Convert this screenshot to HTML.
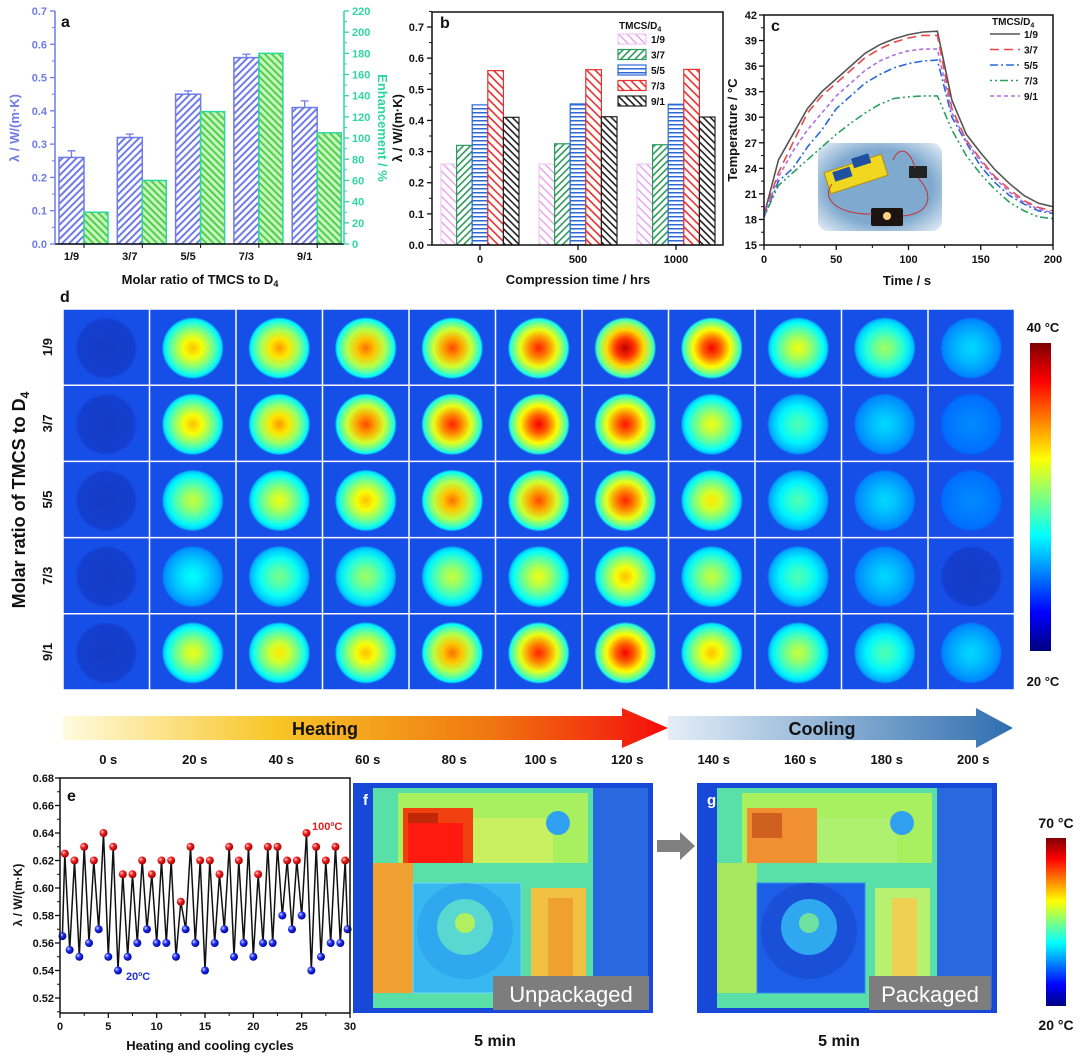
<!DOCTYPE html>
<html><head><meta charset="utf-8"><style>
html,body{margin:0;padding:0;background:#fff;}
svg{display:block;font-family:"Liberation Sans",Arial,sans-serif;font-weight:bold;}
</style></head><body>
<svg id="s" width="1080" height="1060" viewBox="0 0 1080 1060" xmlns="http://www.w3.org/2000/svg">
<defs>
<pattern id="pBlue" width="5" height="5" patternUnits="userSpaceOnUse" patternTransform="rotate(-45)"><rect width="5" height="5" fill="#fff"/><rect width="5" height="2" fill="#6f7be6"/></pattern>
<pattern id="pGreen" width="5" height="5" patternUnits="userSpaceOnUse" patternTransform="rotate(45)"><rect width="5" height="5" fill="#c8f5c0"/><rect width="5" height="2" fill="#4fd046"/></pattern>
<pattern id="pPink" width="6" height="6" patternUnits="userSpaceOnUse" patternTransform="rotate(45)"><rect width="6" height="6" fill="#fff"/><rect width="6" height="1.5" fill="#e6a8ef"/></pattern>
<pattern id="pG2" width="5" height="5" patternUnits="userSpaceOnUse" patternTransform="rotate(-45)"><rect width="5" height="5" fill="#fff"/><rect width="5" height="1.6" fill="#2c9a5a"/></pattern>
<pattern id="pB2" width="4" height="4" patternUnits="userSpaceOnUse"><rect width="4" height="4" fill="#fff"/><rect width="4" height="1.5" fill="#2c68d8"/></pattern>
<pattern id="pR2" width="6" height="6" patternUnits="userSpaceOnUse" patternTransform="rotate(45)"><rect width="6" height="6" fill="#fff"/><rect width="6" height="1.6" fill="#e83030"/></pattern>
<pattern id="pK2" width="5" height="5" patternUnits="userSpaceOnUse" patternTransform="rotate(45)"><rect width="5" height="5" fill="#fff"/><rect width="5" height="1.6" fill="#222"/></pattern>
<linearGradient id="gHeat" x1="0" x2="1"><stop offset="0" stop-color="#fffbe0"/><stop offset="0.35" stop-color="#f8c628"/><stop offset="0.7" stop-color="#f07810"/><stop offset="1" stop-color="#f40c0c"/></linearGradient>
<linearGradient id="gCool" x1="0" x2="1"><stop offset="0" stop-color="#e4eef8"/><stop offset="1" stop-color="#2e6eae"/></linearGradient>
<linearGradient id="gJet" x1="0" x2="0" y1="1" y2="0"><stop offset="0" stop-color="#00007f"/><stop offset="0.125" stop-color="#0000ff"/><stop offset="0.375" stop-color="#00ffff"/><stop offset="0.625" stop-color="#ffff00"/><stop offset="0.875" stop-color="#ff0000"/><stop offset="1" stop-color="#7f0000"/></linearGradient>
<radialGradient id="rBallR" cx="0.35" cy="0.35" r="0.7"><stop offset="0" stop-color="#ffd0d0"/><stop offset="0.4" stop-color="#f02020"/><stop offset="1" stop-color="#900"/></radialGradient>
<radialGradient id="rBallB" cx="0.35" cy="0.35" r="0.7"><stop offset="0" stop-color="#d0d8ff"/><stop offset="0.4" stop-color="#2030f0"/><stop offset="1" stop-color="#000090"/></radialGradient>
<radialGradient id="rPhoto" cx="0.5" cy="0.5" r="0.7"><stop offset="0.6" stop-color="#7fa9cf"/><stop offset="1" stop-color="#e8f0f8"/></radialGradient>
</defs>
</svg>
<script>
// ---------- data ----------
const aCats = ['1/9','3/7','5/5','7/3','9/1'];
const aLambda = [0.26,0.32,0.45,0.56,0.41];
const aErr = [0.02,0.01,0.01,0.01,0.02];
const aEnh = [30,60,125,180,105];
const aYTicks = ['0.0','0.1','0.2','0.3','0.4','0.5','0.6','0.7'];
const aRTicks = [0,20,40,60,80,100,120,140,160,180,200,220];

const bTimes = [0,500,1000];
const bSeries = ['1/9','3/7','5/5','7/3','9/1'];
const b19 = [0.26,0.26,0.26];
const b37 = [0.32,0.325,0.322];
const b55 = [0.45,0.453,0.452];
const b73 = [0.56,0.563,0.564];
const b91 = [0.41,0.412,0.411];

const cTime = [0,10,20,30,40,50,60,70,80,90,100,110,120,130,140,150,160,170,180,190,200];
const c19 = [18.5,25,28,31,33,34.5,36,37.5,38.5,39.2,39.7,40,40.1,32,28,25.8,23.8,22.2,20.8,19.9,19.5];
const c37 = [18.5,23.5,27,30.5,32.5,34,35.5,37,38,38.8,39.3,39.6,39.6,31,27.3,25,23,21.5,20.2,19.4,19.0];
const c55 = [18.3,22.5,24,26.5,28.5,31,32.5,34,35,35.8,36.3,36.6,36.7,30,27,24.2,22.3,20.8,19.8,19,18.7];
const c73 = [18.3,22,23.5,25,26.5,28,29.3,30.5,31.5,32.2,32.4,32.5,32.5,28.5,25.5,23.3,21.5,20,19,18.3,18.1];
const c91 = [18.5,23,26,28.5,30.5,32.5,34,35.5,36.6,37.3,37.8,38,38,30.5,27.2,24.8,22.8,21.2,20,19.2,18.8];

const dRows = ['1/9','3/7','5/5','7/3','9/1'];
const dTimes = ['0 s','20 s','40 s','60 s','80 s','100 s','120 s','140 s','160 s','180 s','200 s'];
const dI19 = [0,0.6,0.65,0.7,0.75,0.8,0.92,0.85,0.5,0.4,0.15];
const dI37 = [0,0.6,0.65,0.75,0.8,0.85,0.82,0.5,0.3,0.15,0.05];
const dI55 = [0,0.45,0.5,0.6,0.7,0.75,0.8,0.55,0.3,0.15,0.05];
const dI73 = [0,0.2,0.35,0.4,0.45,0.5,0.6,0.45,0.3,0.15,0];
const dI91 = [0,0.5,0.55,0.6,0.7,0.8,0.85,0.6,0.45,0.3,0.15];

const eCycle = [0.25,0.5,1,1.5,2,2.5,3,3.5,4,4.5,5,5.5,6,6.5,7,7.5,8,8.5,9,9.5,10,10.5,11,11.5,12,12.5,13,13.5,14,14.5,15,15.5,16,16.5,17,17.5,18,18.5,19,19.5,20,20.5,21,21.5,22,22.5,23,23.5,24,24.5,25,25.5,26,26.5,27,27.5,28,28.5,29,29.5,29.75];
const eLambda = [0.565,0.625,0.555,0.62,0.55,0.63,0.56,0.62,0.57,0.64,0.55,0.63,0.54,0.61,0.55,0.61,0.56,0.62,0.57,0.61,0.56,0.62,0.56,0.62,0.55,0.59,0.57,0.63,0.56,0.62,0.54,0.62,0.56,0.61,0.57,0.63,0.55,0.62,0.56,0.63,0.55,0.61,0.56,0.63,0.56,0.63,0.58,0.62,0.57,0.62,0.58,0.64,0.54,0.63,0.55,0.62,0.56,0.63,0.56,0.62,0.57];
const eYTicks = [0.52,0.54,0.56,0.58,0.60,0.62,0.64,0.66,0.68];
const eXTicks = [0,5,10,15,20,25,30];

// ---------- helpers ----------
const S = document.getElementById('s');
const NS = 'http://www.w3.org/2000/svg';
function mk(tag, attrs, parent){const e=document.createElementNS(NS,tag);for(const k in attrs)e.setAttribute(k,attrs[k]);(parent||S).appendChild(e);return e;}
function tx(x,y,str,size,fill,anchor,parent,rot){const e=mk('text',{x:x,y:y,'font-size':size,fill:fill||'#111','text-anchor':anchor||'middle'},parent);if(rot)e.setAttribute('transform','rotate('+rot+' '+x+' '+y+')');e.textContent=str;return e;}
function sub(e,str,size){const t=mk('tspan',{dy:size*0.35,'font-size':size},e);t.textContent=str;return t;}
function grp(){return mk('g',{});}
function jet(v){v=Math.max(0,Math.min(1,v));const st=[[0,[0,0,127]],[0.125,[0,0,255]],[0.375,[0,255,255]],[0.625,[255,255,0]],[0.875,[255,0,0]],[1,[127,0,0]]];for(let i=1;i<st.length;i++){if(v<=st[i][0]){const a=st[i-1],b=st[i],t=(v-a[0])/(b[0]-a[0]);return 'rgb('+a[1].map((c,j)=>Math.round(c+(b[1][j]-c)*t)).join(',')+')';}}return 'rgb(127,0,0)';}

// ================= Panel a =================
(function(){
const g=grp();  
const L=55,R=344,B=244,T=11;
const ya=v=>B-v/0.7*(B-T), yr=v=>B-v/220*(B-T);
const xb=i=>59+58.3*i;
aCats.forEach((c,i)=>{
  const r1=mk('rect',{x:xb(i),y:ya(aLambda[i]),width:25,height:B-ya(aLambda[i]),fill:'url(#pBlue)',stroke:'#6f7be6','stroke-width':1.5},g);
   
  const r2=mk('rect',{x:xb(i)+25,y:yr(aEnh[i]),width:24,height:B-yr(aEnh[i]),fill:'url(#pGreen)',stroke:'#2ed6a0','stroke-width':1.5},g);
   
  const cx=xb(i)+12.5, y1=ya(aLambda[i]+aErr[i]);
  const eb=mk('path',{d:'M'+(cx-4)+' '+y1+'H'+(cx+4)+'M'+cx+' '+y1+'V'+ya(aLambda[i]),stroke:'#6f7be6','stroke-width':1.3,fill:'none'},g);
   
  const tl=tx(cx,260,c,11,'#111','middle',g);  
  mk('line',{x1:cx+12.5,x2:cx+12.5,y1:B,y2:B+4,stroke:'#111'},g);
});
mk('line',{x1:L,x2:R,y1:B,y2:B,stroke:'#111','stroke-width':1.5},g);
mk('line',{x1:L,x2:L,y1:T,y2:B,stroke:'#6f7be6','stroke-width':1.5},g);
mk('line',{x1:R,x2:R,y1:T,y2:B,stroke:'#2ed6a0','stroke-width':1.5},g);
aYTicks.forEach((t,i)=>{const y=ya(+t);mk('line',{x1:L-5,x2:L,y1:y,y2:y,stroke:'#6f7be6','stroke-width':1.3},g);if(i<7)mk('line',{x1:L-3,x2:L,y1:ya(+t+0.05),y2:ya(+t+0.05),stroke:'#6f7be6'},g);
  const e=tx(L-8,y+4,t,11,'#6f7be6','end',g);  });
aRTicks.forEach((t,i)=>{const y=yr(t);mk('line',{x1:R,x2:R+5,y1:y,y2:y,stroke:'#2ed6a0','stroke-width':1.3},g);if(i<11)mk('line',{x1:R,x2:R+3,y1:yr(t+10),y2:yr(t+10),stroke:'#2ed6a0'},g);
  const e=tx(R+8,y+4,String(t),11,'#2ed6a0','start',g);  });
let e=tx(19,128,'λ / W/(m·K)',13,'#6f7be6','middle',g,-90);  
e=tx(378,128,'Enhancement / %',13,'#2ed6a0','middle',g,90);  
e=tx(200,284,'Molar ratio of  TMCS to D',13,'#111','middle',g); sub(e,'4',9);  
e=tx(61,27,'a',16,'#111','start',g);  
})();

// ================= Panel b =================
(function(){
const g=grp();  
const L=432,R=723,B=245,T=12;
const yb=v=>B-v*311.4, xg=t=>480+t*0.196;
const series=[b19,b37,b55,b73,b91], fills=['url(#pPink)','url(#pG2)','url(#pB2)','url(#pR2)','url(#pK2)'], strokes=['#f0c8f5','#2c9a5a','#2c68d8','#e83030','#222'];
const bw=15.6;
bTimes.forEach((t,gi)=>{
  series.forEach((s,si)=>{
    const x=xg(t)-2.5*bw+si*bw;
    const r=mk('rect',{x:x,y:yb(s[gi]),width:bw,height:B-yb(s[gi]),fill:fills[si],stroke:strokes[si],'stroke-width':1.2},g);
     
  });
  mk('line',{x1:xg(t),x2:xg(t),y1:B,y2:B+5,stroke:'#111','stroke-width':1.3},g);
  const e=tx(xg(t),263,String(t),11,'#111','middle',g);  
});
mk('rect',{x:L,y:T,width:R-L,height:B-T,fill:'none',stroke:'#111','stroke-width':1.5},g);
aYTicks.forEach((t,i)=>{const y=yb(+t);mk('line',{x1:L-5,x2:L,y1:y,y2:y,stroke:'#111','stroke-width':1.3},g);mk('line',{x1:L-3,x2:L,y1:yb(+t+0.05),y2:yb(+t+0.05),stroke:'#111'},g);
  const e=tx(L-8,y+4,t,11,'#111','end',g);  });
let e=tx(402,128,'λ / W/(m·K)',13,'#111','middle',g,-90);  
e=tx(578,284,'Compression time / hrs',13,'#111','middle',g);  
e=tx(440,28,'b',16,'#111','start',g);  
const lg=mk('g',{},g);  
e=tx(619,29,'TMCS/D',10,'#111','start',lg); sub(e,'4',7);
bSeries.forEach((s,i)=>{const y=34+i*15.5;const r=mk('rect',{x:618,y:y,width:28,height:10,fill:fills[i],stroke:strokes[i],'stroke-width':1.2},lg);tx(651,y+9,s,10,'#111','start',lg);});
})();

// ================= Panel c =================
(function(){
const g=grp();  
const L=764,R=1053,B=245,T=15;
const xc=t=>L+t*1.445, yc=v=>B-(v-15)/27*(B-T);
const ph=mk('g',{},g);  
mk('rect',{x:818,y:143,width:124,height:88,rx:10,fill:'url(#rPhoto)'},ph);
mk('rect',{x:826,y:163,width:60,height:22,fill:'#f0d820',stroke:'#b09010',transform:'rotate(-18 856 174)'},ph);
mk('rect',{x:834,y:165,width:18,height:10,fill:'#2050a0',transform:'rotate(-18 856 174)'},ph);
mk('rect',{x:856,y:158,width:18,height:10,fill:'#2050a0',transform:'rotate(-18 856 174)'},ph);
mk('rect',{x:909,y:166,width:18,height:12,fill:'#222'},ph);
mk('rect',{x:871,y:208,width:32,height:18,rx:2,fill:'#1c1410'},ph);
mk('circle',{cx:887,cy:216,r:4,fill:'#ffd080'},ph);
mk('path',{d:'M832 184 C 820 200, 840 215, 872 214 M903 216 C 930 214, 935 195, 918 178 M893 160 C 900 145, 910 150, 915 168',stroke:'#c83030','stroke-width':1,fill:'none'},ph);
const series=[c19,c37,c55,c73,c91], cols=['#555','#e84848','#2a6ad8','#2aa060','#b070e0'], dash=['','9,5','8,3,2,3','2,3,2,3,8,3','4,3'], names=['1/9','3/7','5/5','7/3','9/1'];
series.forEach((s,si)=>{const d=cTime.map((t,i)=>(i?'L':'M')+xc(t).toFixed(1)+' '+yc(s[i]).toFixed(1)).join('');
  const p=mk('path',{d:d,stroke:cols[si],'stroke-width':1.6,fill:'none','stroke-dasharray':dash[si]},g);});
mk('rect',{x:L,y:T,width:R-L,height:B-T,fill:'none',stroke:'#111','stroke-width':1.5},g);
for(let v=15;v<=42;v+=3){const y=yc(v);mk('line',{x1:L-5,x2:L,y1:y,y2:y,stroke:'#111','stroke-width':1.3},g);if(v<42)mk('line',{x1:L-3,x2:L,y1:yc(v+1.5),y2:yc(v+1.5),stroke:'#111'},g);
  const e=tx(L-7,y+4,String(v),11,'#111','end',g);  }
for(let t=0;t<=200;t+=50){const x=xc(t);mk('line',{x1:x,x2:x,y1:B,y2:B+5,stroke:'#111','stroke-width':1.3},g);if(t<200)mk('line',{x1:xc(t+25),x2:xc(t+25),y1:B,y2:B+3,stroke:'#111'},g);
  const e=tx(x,263,String(t),11,'#111','middle',g);  }
let e=tx(737,130,'Temperature / °C',13,'#111','middle',g,-90);  
e=tx(907,285,'Time / s',13,'#111','middle',g);  
e=tx(771,31,'c',16,'#111','start',g);  
const lg=mk('g',{},g);  
e=tx(992,25,'TMCS/D',10,'#111','start',lg); sub(e,'4',7);
names.forEach((n,i)=>{const y=34+i*15.5;const l=mk('line',{x1:990,x2:1020,y1:y,y2:y,stroke:cols[i],'stroke-width':1.6,'stroke-dasharray':dash[i]},lg);tx(1024,y+4,n,10,'#111','start',lg);});
})();

// ================= Panel d =================
(function(){
const g=grp();  
const X0=63,Y0=309,CW=86.5,CH=76.2;
const rows=[dI19,dI37,dI55,dI73,dI91];
const defs=S.querySelector('defs');
const BG='rgb(22,78,232)';
rows.forEach((row,ri)=>{row.forEach((t,ci)=>{
  const id='rg'+ri+'_'+ci;
  const rg=mk('radialGradient',{id:id,cx:'50%',cy:'50%',r:'50%'},defs);
  const stops=t<0.05?[[0,'rgb(20,60,200)'],[0.9,'rgb(20,62,205)'],[0.96,'rgb(22,70,220)'],[1,BG]]:
    [[0,jet(0.22+0.78*t)],[0.3,jet(0.22+0.66*t)],[0.6,jet(0.22+0.48*t)],[0.82,jet(0.22+0.32*t)],[0.93,jet(0.22+0.22*t)],[1,BG]];
  stops.forEach(s=>mk('stop',{offset:s[0],'stop-color':s[1]},rg));
  const x=X0+ci*CW,y=Y0+ri*CH;
  const r=mk('rect',{x:x,y:y,width:CW,height:CH,fill:BG},g);  
  mk('circle',{cx:x+CW/2,cy:y+CH/2+1,r:31,fill:'url(#'+id+')'},g);
});});
for(let i=0;i<=11;i++)mk('line',{x1:X0+i*CW,x2:X0+i*CW,y1:Y0,y2:Y0+5*CH,stroke:'#fff','stroke-width':1.5},g);
for(let i=0;i<=5;i++)mk('line',{x1:X0,x2:X0+11*CW,y1:Y0+i*CH,y2:Y0+i*CH,stroke:'#fff','stroke-width':1.5},g);
dRows.forEach((r,i)=>{const e=tx(52,Y0+i*CH+CH/2,r,13,'#111','middle',g,-90);});
let e=tx(25,500,'Molar ratio of  TMCS to D',18,'#111','middle',g,-90); sub(e,'4',12);  
e=tx(60,302,'d',16,'#111','start',g);  
const cb=mk('rect',{x:1030,y:343,width:21,height:308,fill:'url(#gJet)'},g);  
tx(1043,332,'40 °C',13,'#111','middle',g); tx(1043,686,'20 °C',13,'#111','middle',g);
const ah=mk('path',{d:'M63 716 H622 V708 L668 728 L622 748 V740 H63 Z',fill:'url(#gHeat)'},g);  
tx(325,735,'Heating',18,'#111','middle',g);
const ac=mk('path',{d:'M668 716 H976 V708 L1013 728 L976 748 V740 H668 Z',fill:'url(#gCool)'},g);  
tx(822,735,'Cooling',18,'#111','middle',g);
dTimes.forEach((t,i)=>{const e=tx(X0+i*CW+CW/2+2,764,t,13,'#111','middle',g);});
})();

// ================= Panel e =================
(function(){
const g=grp();  
const L=60,R=350,B=1013,T=778;
const xe=c=>L+c*9.667, ye=v=>998-(v-0.52)/0.02*27.5;
const d=eCycle.map((c,i)=>(i?'L':'M')+xe(c).toFixed(1)+' '+ye(eLambda[i]).toFixed(1)).join('');
const p=mk('path',{d:d,stroke:'#111','stroke-width':1.5,fill:'none'},g);  
eCycle.forEach((c,i)=>{const red=(c%1)===0.5;const m=mk('circle',{cx:xe(c),cy:ye(eLambda[i]),r:4,fill:red?'url(#rBallR)':'url(#rBallB)'},g);});
mk('rect',{x:L,y:T,width:R-L,height:B-T,fill:'none',stroke:'#111','stroke-width':1.5},g);
eYTicks.forEach((v,i)=>{const y=ye(v);mk('line',{x1:L-5,x2:L,y1:y,y2:y,stroke:'#111','stroke-width':1.3},g);if(i<eYTicks.length-1)mk('line',{x1:L-3,x2:L,y1:ye(v+0.01),y2:ye(v+0.01),stroke:'#111'},g);
  const e=tx(L-6,y+4,v.toFixed(2),11,'#111','end',g);});
mk('line',{x1:L-3,x2:L,y1:ye(0.51),y2:ye(0.51),stroke:'#111'},g);
eXTicks.forEach(c=>{const x=xe(c);mk('line',{x1:x,x2:x,y1:B,y2:B+5,stroke:'#111','stroke-width':1.3},g);if(c<30)mk('line',{x1:xe(c+2.5),x2:xe(c+2.5),y1:B,y2:B+3,stroke:'#111'},g);
  const e=tx(x,1030,String(c),11,'#111','middle',g);});
let e=tx(22,895,'λ / W/(m·K)',12,'#111','middle',g,-90);  
e=tx(210,1050,'Heating and cooling cycles',13,'#111','middle',g);  
e=tx(67,801,'e',16,'#111','start',g);  
tx(312,830,'100ºC',11,'#e02020','start',g); tx(126,980,'20ºC',11,'#2030e0','start',g);
})();

// ================= Panels f & g =================
function board(x0,pk,label,letter){
  const g=grp();  
  const W=300,H=230,y0=783;
  mk('rect',{x:x0,y:y0,width:W,height:H,fill:'#1848d8'},g);
  mk('rect',{x:x0+20,y:y0+5,width:W-60,height:H-10,fill:'#58e0a8'},g);
  mk('rect',{x:x0+45,y:y0+10,width:190,height:70,fill:'#a8f060'},g);
  mk('rect',{x:x0+50,y:y0+25,width:70,height:55,fill:pk?'#f09030':'#f04010'},g);
  mk('rect',{x:x0+55,y:y0+30,width:30,height:25,fill:pk?'#d06020':'#c02808'},g);
  if(!pk)mk('path',{d:'M'+(x0+55)+' '+(y0+40)+'h55v40h-55z',fill:'#ff1a10'},g);
  mk('rect',{x:x0+120,y:y0+35,width:80,height:45,fill:pk?'#b0f070':'#c8f060'},g);
  mk('rect',{x:x0+20,y:y0+80,width:40,height:130,fill:pk?'#a8e860':'#f0a030'},g);
  mk('rect',{x:x0+60,y:y0+100,width:108,height:110,fill:pk?'#1c5ee8':'#38b8f0',stroke:pk?'#3090f0':'#70d8f0'},g);
  mk('circle',{cx:x0+112,cy:y0+148,r:48,fill:pk?'#1a50d8':'#30a8f0'},g);
  mk('circle',{cx:x0+112,cy:y0+144,r:28,fill:pk?'#30a8f0':'#58d8d0'},g);
  mk('circle',{cx:x0+112,cy:y0+140,r:10,fill:pk?'#70e0a0':'#b0f060'},g);
  mk('rect',{x:x0+178,y:y0+105,width:55,height:100,fill:pk?'#b8f070':'#f0c040'},g);
  mk('rect',{x:x0+195,y:y0+115,width:25,height:80,fill:pk?'#f0d050':'#f0a030'},g);
  mk('rect',{x:x0+240,y:y0+5,width:55,height:H-10,fill:'#2a68e0'},g);
  mk('circle',{cx:x0+205,cy:y0+40,r:12,fill:'#30a0f0'},g);
  const lb=mk('rect',{x:x0+(pk?172:140),y:y0+193,width:pk?122:156,height:34,fill:'#7d7d7d'},g);  
  const t=tx(x0+(pk?233:218),y0+219,label,22,'#fff','middle',g); t.setAttribute('font-weight','normal');
  tx(x0+10,y0+22,letter,15,'#fff','start',g);
  const m=tx(x0+142,1046,'5 min',16,'#111','middle',g);  
}
board(353,false,'Unpackaged','f');
board(697,true,'Packaged','g');
(function(){
const a=mk('path',{d:'M657 840 H680 V832 L695 846 L680 860 V852 H657 Z',fill:'#808080'});  
const cb=mk('rect',{x:1046,y:838,width:20,height:168,fill:'url(#gJet)'});  
tx(1056,828,'70 °C',14,'#111','middle'); tx(1056,1030,'20 °C',14,'#111','middle');
})();
</script>
</body></html>
